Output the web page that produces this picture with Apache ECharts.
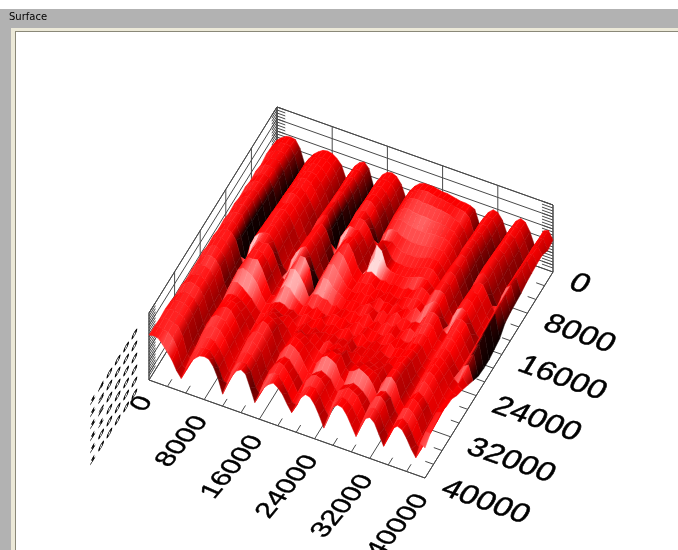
<!DOCTYPE html>
<html>
<head>
    <meta charset="utf-8" />
    <title>Surface</title>
    <style>
        html, body { margin: 0; padding: 0; background: #fff; }
        #main { width: 678px; height: 550px; }
    </style>
</head>
<body>
    <div id="main"></div>
    <script src="https://cdn.jsdelivr.net/npm/echarts@6/dist/echarts.min.js"></script>
    <script type="text/javascript">
        var xTicks = [0, 8000, 16000, 24000, 32000, 40000];
        var yTicks = [0, 8000, 16000, 24000, 32000, 40000];
        var zTicks = [7, 19, 31, 43, 55, 67];
        var zLabels = ["100000", "100000", "110000", "120000", "130000", "140000"];
        var zMax = 67;
        var axisMax = 40000;

        // surface heights: 25 rows back to front, 61 columns left to right
        var heights = [
            [34,38,41,42,41,34,20, 27,33,37,40,41,40,37,32, 20, 28,36,41,43,38, 22, 30,37,41,42,40,34, 22, 31,37,41,43,43,43,42,41,41,40,39,38,38,37,35, 22, 30,37,41,40,34, 22, 30,38,42,40,32, 20, 28,38,40,32],
            [36,40,43,44,43,35,19, 28,35,39,42,43,42,38,32, 19, 29,37,42,44,38, 21, 31,38,42,44,41,34, 21, 32,38,43,45,46,46,45,44,44,43,42,41,40,39,35, 21, 31,38,43,42,34, 21, 31,39,43,41,32, 20, 29,38,41,30],
            [37,41,44,45,44,36,19, 29,36,41,44,45,43,38,31, 18, 29,38,43,45,37, 20, 31,39,44,45,41,33, 20, 32,38,43,45,45,44,44,44,43,43,42,41,39,37,32, 20, 31,39,44,43,34, 20, 31,40,44,41,31, 19, 29,39,41,34],
            [35,41,45,46,45,36,18, 29,37,42,45,46,44,38,30, 18, 30,38,44,46,37, 19, 31,40,45,46,42,33, 19, 32,38,42,43,42,41,41,41,40,40,40,39,38,36,31, 20, 32,40,45,44,34, 20, 32,41,45,42,31, 19, 30,39,42,34],
            [37,43,47,47,46,37,18, 30,38,43,47,47,45,38,29, 17, 30,39,46,47,37, 18, 31,41,47,48,43,33, 18, 31,37,40,40,38,37,36,36,36,37,37,37,37,35,30, 20, 33,41,46,45,34, 20, 33,42,46,42,31, 18, 30,39,43,33],
            [36,42,46,48,46,36,17, 31,39,45,46,48,44,37,28, 17, 31,40,44,48,37, 17, 32,42,45,47,42,32, 18, 30,36,38,37,34,33,32,32,32,33,34,35,35,34,29, 20, 32,40,47,46,34, 19, 32,43,47,43,30, 18, 30,40,44,32],
            [38,44,48,49,47,37,17, 30,40,46,49,49,45,38,28, 17, 32,41,47,49,37, 17, 32,40,45,48,47,41,31, 19, 30,35,36,33,30,29,29,29,30,31,33,34,33,28, 20, 34,42,48,46,33, 19, 33,44,47,43,29, 18, 31,40,44,30],
            [37,43,47,50,48,37,17, 31,41,47,47,50,46,38,27, 18, 32,42,48,50,37, 18, 33,41,47,46,46,40,30, 20, 31,44,38,30,27,27,27,27,28,30,32,33,33,28, 21, 35,43,47,45,33, 20, 34,44,48,42,29, 19, 31,41,45,29],
            [39,45,49,51,49,38,17, 32,42,49,50,51,46,37,26, 18, 31,40,47,50,45,33, 18, 32,42,47,48,41,30, 21, 36,48,44,30,27,26,26,26,27,29,31,32,31,27, 22, 36,44,48,45,33, 21, 33,42,47,46,38,28, 20, 36,44,28],
            [38,45,50,52,50,38,18, 33,43,48,51,52,47,37,26, 19, 33,42,48,51,46,33, 20, 33,43,48,50,42,30, 24, 28,30,27,25,26,24,26,25, 24, 27,26,30,32,30, 25, 37,44,47,44,32, 22, 34,43,47,45,37,27, 21, 37,43,26],
            [40,46,51,52,51,39,18, 34,44,50,50,53,47,37,25, 20, 34,43,49,52,46,32, 21, 34,44,49,46,38,28, 24, 27,26,29,24,26,23,27,24, 23, 26,28,27,31,28, 25, 38,45,46,44,31, 23, 35,44,48,45,36,26, 21, 36,42,19],
            [39,46,50,53,50,39,18, 35,45,50,52,53,47,36,25, 21, 35,44,50,53,45,31, 22, 34,43,45,39,33,27, 25, 24,28,25,27,23,28,25,26, 24, 29,24,28,26,31, 27, 36,40,44,42,30, 24, 35,44,47,44,35,26, 22, 35,41,17],
            [41,47,51,53,51,45,30, 18, 35,45,52,52,53,47,36,24, 22, 36,45,52,52,43, 22, 33,38,38,32,29,27,24, 25, 27,24,26,29,25,23,27, 24, 26,30,25,28,24,27, 27, 35,41,43,40,29, 25, 36,44,46,43,34, 23, 34,40,15],
            [40,47,52,53,50,45,30, 17, 36,46,52,54,52,46,35,24, 23, 36,46,47,42,35, 24, 29,30,28,28,24,26,23, 26, 24,27,23,26,29,22,25, 23, 27,24,28,23,26,29, 26, 33,39,41,39,28, 26, 35,43,45,42,33, 24, 33,38,15],
            [42,48,52,53,50,44,29, 17, 37,47,53,53,54,46,35,24, 24, 33,38,37,31,27, 24, 27,24,28,25,22,25,27, 25, 27,23,25,28,23,26,24, 24, 22,25,28,24,27,24, 25, 31,37,39,37,27, 26, 34,42,44,41,32, 24, 32,36,16],
            [41,48,51,52,50,44,29, 18, 38,48,51,49,46,41,31,24, 25, 28,30,29,26,27, 23, 25,28,24,26,29,23,25, 27, 24,26,29,22,25,28,23, 22, 26,23,25,28,24,27, 26, 30,36,38,36,27, 25, 33,41,43,40,31, 24, 31,34,20],
            [42,48,50,50,48,42,28, 18, 36,44,45,42,38,34,28,23, 24, 29,33,30,28,31,27, 22, 26,29,25,28,24,27, 25, 28,24,27,25,29,23,26, 24, 27,24,28,25,23,27, 27, 31,38,40,37,27, 25, 32,40,43,40,34,26, 22, 30,24],
            [41,47,49,50,47,41,27, 17, 33,40,42,42,39,35,29,22, 22, 31,36,39,35,32,27, 20, 28,31,27,30,33,28, 26, 30,27,31,28,33,26,29, 25, 29,26,31,28,25,29, 26, 33,40,42,39,28, 24, 33,40,44,41,35,26, 22, 31,28],
            [43,47,50,49,47,40,26, 16, 33,40,43,46,44,38,30,21, 21, 33,39,44,42,37,26, 19, 30,36,39,37,33,30,26, 25, 32,30,35,33,37,28, 26, 31,29,34,32,30,33, 25, 35,42,45,41,29, 23, 32,40,45,42,35,25, 21, 32,31],
            [42,46,49,48,45,39,24, 15, 34,42,46,48,46,39,30,20, 19, 35,42,47,45,38,25, 17, 31,38,43,41,37,31,24, 23, 34,38,42,40,41,30, 25, 36,35,40,38,36,34, 24, 36,44,46,42,29, 22, 31,39,44,41,34,24, 20, 34,36],
            [44,47,48,47,45,38,23, 14, 35,43,47,46,44,38,29,19, 18, 36,43,45,43,37,24, 16, 32,39,44,42,38,30,22, 21, 36,42,45,43,40,29, 24, 38,40,44,42,39,33, 23, 37,45,47,42,28, 21, 30,38,42,39,33,23, 19, 36,37],
            [45,47,47,46,44,37,21, 14, 33,40,44,45,43,37,28,18, 16, 34,41,44,41,36,22, 15, 29,36,40,39,33,27,20, 20, 32,36,39,37,34,26, 22, 33,35,38,36,33,28, 21, 33,40,41,37,26, 20, 31,40,44,41,34,22, 18, 38,40],
            [44,47,46,45,43,35,19, 13, 30,38,42,43,41,35,27,16, 15, 31,39,42,40,35,21, 15, 32,39,43,41,35,28,19, 19, 35,41,43,41,35,24, 21, 36,39,42,40,37,29, 20, 36,43,45,40,26, 19, 32,41,43,40,33,21, 18, 37,38],
            [45,46,45,44,40,31,17, 13, 28,35,40,42,41,35,26,15, 14, 29,37,41,40,34,20, 15, 30,38,41,40,34,26,18, 17, 31,38,41,40,34,23, 17, 33,38,41,39,35,27, 19, 33,40,42,38,25, 18, 30,38,41,38,30,20, 17, 36,36],
            [45,46,45,40,34,28,19, 13, 25,33,38,42,43,42,36,26, 12, 25,33,40,43,40,28, 15, 26,33,38,41,38,33,25, 18, 28,36,41,40,34,25, 14, 28,38,42,41,35,26, 17, 30,38,41,37,27, 17, 30,38,42,40,33,24, 17, 33,30]
        ];

        // where the box sits on the page: back left floor corner and the edge vectors
        var floorOrigin = [277, 174];
        var xEdge = [276, 98];
        var yEdge = [-128, 206];
        var lineColor = "#4a4a4a";

        var myChart = echarts.init(document.getElementById("main"), null, { renderer: "canvas" });

        //x and y as fractions of the floor, z in height units
        function project(x, y, z) {
            return [
                floorOrigin[0] + x * xEdge[0] + y * yEdge[0],
                floorOrigin[1] + x * xEdge[1] + y * yEdge[1] - z
            ];
        }

        function fallRight(r, c) {
            return ((heights[r][c] - heights[r][c + 1]) + (heights[r + 1][c] - heights[r + 1][c + 1])) / 2;
        }

        //brightness of one cell: 1 is pure red, below goes to black, above goes to white
        function cellLight(r, c) {
            var g = fallRight(r, c);
            var d = ((heights[r][c] - heights[r + 1][c]) + (heights[r][c + 1] - heights[r + 1][c + 1])) / 2;
            var mean = (heights[r][c] + heights[r][c + 1] + heights[r + 1][c] + heights[r + 1][c + 1]) / 4;
            var v = 1 + (mean - 28) * 0.006;
            if (g > 0) {
                v -= (g / 17) * (g / 17);
            }
            v += d > 0 ? 0.1 * d : 0.03 * d;
            return v;
        }

        function lightColor(v) {
            if (v < 1) {
                return "rgb(" + Math.round(255 * Math.max(v, 0.04)) + ",0,0)";
            }
            var w = Math.round(255 * Math.min(0.85, (v - 1) * 0.7));
            return "rgb(255," + w + "," + w + ")";
        }

        // surface cells, far ones first so the near ones paint over them
        var cells = [];
        for (var r = 0; r < heights.length - 1; r++) {
            for (var c = 0; c < heights[r].length - 1; c++) {
                cells.push([c, r]);
            }
        }

        function renderCell(params, api) {
            var c = api.value(0), r = api.value(1);
            var nx = heights[0].length - 1, ny = heights.length - 1;
            var p1 = api.coord(project(c / nx, r / ny, heights[r][c]));
            var p2 = api.coord(project((c + 1) / nx, r / ny, heights[r][c + 1]));
            var p3 = api.coord(project((c + 1) / nx, (r + 1) / ny, heights[r + 1][c + 1]));
            var p4 = api.coord(project(c / nx, (r + 1) / ny, heights[r + 1][c]));

            // blend towards the neighbours, but keep the hard edge at the bottom of a valley
            var v = cellLight(r, c), vl = v, vr = v;
            if (c > 0 && !(fallRight(r, c - 1) > 2 && fallRight(r, c) <= 0)) {
                vl = (v + cellLight(r, c - 1)) / 2;
            }
            if (c < nx - 1 && !(fallRight(r, c) > 2 && fallRight(r, c + 1) <= 0)) {
                vr = (v + cellLight(r, c + 1)) / 2;
            }

            // gradient runs across the ridge, its bands parallel to the y edge
            var lx = (p1[0] + p4[0]) / 2, ly = (p1[1] + p4[1]) / 2;
            var rx = (p2[0] + p3[0]) / 2, ry = (p2[1] + p3[1]) / 2;
            var len = Math.sqrt(yEdge[0] * yEdge[0] + yEdge[1] * yEdge[1]);
            var nxd = yEdge[1] / len, nyd = -yEdge[0] / len;
            var dot = (rx - lx) * nxd + (ry - ly) * nyd;
            var fill = new echarts.graphic.LinearGradient(lx, ly, lx + nxd * dot, ly + nyd * dot, [
                { offset: 0, color: lightColor(vl) },
                { offset: 1, color: lightColor(vr) }
            ], true);
            return {
                type: "polygon",
                shape: { points: [p1, p2, p3, p4] },
                style: { fill: fill, stroke: fill, lineWidth: 0.5 }
            };
        }

        // wire box
        var segments = [];
        function addSeg(x1, y1, z1, x2, y2, z2) {
            segments.push([x1, y1, z1, x2, y2, z2]);
        }
        addSeg(0, 1, 0, 1, 1, 0);
        addSeg(1, 0, 0, 1, 1, 0);
        addSeg(0, 0, 0, 1, 0, 0);
        addSeg(0, 0, 0, 0, 1, 0);
        addSeg(0, 0, zMax, 1, 0, zMax);
        addSeg(0, 0, zMax, 0, 1, zMax);
        addSeg(0, 1, 0, 0, 1, zMax);
        addSeg(0, 0, 0, 0, 0, zMax);
        addSeg(1, 0, 0, 1, 0, zMax);
        xTicks.forEach(function (v) {
            var t = v / axisMax;
            addSeg(t, 0, 0, t, 1, 0);
            addSeg(t, 0, 0, t, 0, zMax);
        });
        yTicks.forEach(function (v) {
            var s = v / axisMax;
            addSeg(0, s, 0, 1, s, 0);
            addSeg(0, s, 0, 0, s, zMax);
        });
        zTicks.forEach(function (z) {
            addSeg(0, 0, z, 1, 0, z);
            addSeg(0, 0, z, 0, 1, z);
        });
        for (var m = 0; m < axisMax; m += 8000) {
            [1, 2].forEach(function (k) {
                var f = (m + k * 8000 / 3) / axisMax;
                addSeg(f, 1, 0, f, 0.965, 0);
                addSeg(1, f, 0, 0.97, f, 0);
            });
        }
        for (var h = 4; h <= zMax; h += 3) {
            addSeg(0, 1, h, 0, 0.95, h);
            addSeg(0, 0, h, 0, 0.04, h);
            addSeg(0, 0, h, 0.03, 0, h);
            addSeg(1, 0, h, 0.96, 0, h);
        }

        function renderSeg(params, api) {
            var p1 = api.coord(project(api.value(0), api.value(1), api.value(2)));
            var p2 = api.coord(project(api.value(3), api.value(4), api.value(5)));
            return {
                type: "line",
                shape: { x1: p1[0], y1: p1[1], x2: p2[0], y2: p2[1] },
                style: { stroke: lineColor, lineWidth: 1 }
            };
        }

        // text laid into the plane of the box: split the 2x2 matrix into rotate, scale, rotate
        function skewedText(pos, text, size, align, ux, uy, dx, dy, weight) {
            var E = (ux + dy) / 2, F = (ux - dy) / 2, G = (uy + dx) / 2, H = (uy - dx) / 2;
            var Q = Math.sqrt(E * E + H * H), R = Math.sqrt(F * F + G * G);
            var a1 = Math.atan2(G, F), a2 = Math.atan2(H, E);
            return {
                type: "group",
                x: pos[0],
                y: pos[1],
                rotation: -(a2 + a1) / 2,
                scaleX: Q + R,
                scaleY: Q - R,
                children: [{
                    type: "text",
                    rotation: -(a2 - a1) / 2,
                    style: {
                        text: text,
                        fill: "#000",
                        stroke: "#000",
                        lineWidth: weight,
                        font: size + "px 'Liberation Sans', Arial, sans-serif",
                        align: align,
                        verticalAlign: "middle"
                    }
                }]
            };
        }

        var labelItems = [];
        xTicks.forEach(function (v) { labelItems.push(["x", v]); });
        yTicks.forEach(function (v) { labelItems.push(["y", v]); });
        zTicks.forEach(function (v, i) { labelItems.push(["z", v, zLabels[i]]); });

        function renderLabel(params) {
            var item = labelItems[params.dataIndex];
            var kind = item[0], v = item[1], p;
            if (kind === "x") {
                p = project(v / axisMax, 1, 0);
                return skewedText([p[0] - 2, p[1] + 18], String(v), 25, "right", 0.72, -0.86, 0.95, 0.42, 0.4);
            }
            if (kind === "y") {
                p = project(1, v / axisMax, 0);
                return skewedText([p[0] + 18, p[1] + 9], String(v), 24, "left", 1.27, 0.45, -0.62, 1, 0.4);
            }
            p = project(0, 1, v);
            // the z labels are squeezed nearly flat in the picture, digits stand apart
            return skewedText([p[0] - 12, p[1] + 17], item[2].split("").join(" "), 8, "right", 1.24, -1.95, -0.15, 0.9, 0.7);
        }

        var option = {
            animation: false,
            backgroundColor: "#fff",
            grid: { left: 0, right: 0, top: 0, bottom: 0 },
            xAxis: { type: "value", min: 0, max: 678, show: false },
            yAxis: { type: "value", min: 0, max: 550, inverse: true, show: false },
            tooltip: { show: false },
            graphic: [
                { type: "rect", silent: true, shape: { x: 0, y: 9, width: 678, height: 19 }, style: { fill: "#b2b2b2" } },
                { type: "rect", silent: true, shape: { x: 0, y: 28, width: 11, height: 522 }, style: { fill: "#b2b2b2" } },
                { type: "rect", silent: true, shape: { x: 11, y: 28, width: 667, height: 3 }, style: { fill: "#ece9d8" } },
                { type: "rect", silent: true, shape: { x: 11, y: 28, width: 4, height: 522 }, style: { fill: "#ece9d8" } },
                { type: "rect", silent: true, shape: { x: 15, y: 31, width: 663, height: 1 }, style: { fill: "#8a8878" } },
                { type: "rect", silent: true, shape: { x: 15, y: 31, width: 1, height: 519 }, style: { fill: "#8a8878" } },
                { type: "text", silent: true, x: 9, y: 12, style: { text: "Surface", fill: "#000", font: "10px 'DejaVu Sans', Tahoma, sans-serif" } }
            ],
            series: [
                { type: "custom", coordinateSystem: "cartesian2d", silent: true, clip: false, z: 1, progressive: 0, data: segments, renderItem: renderSeg },
                { type: "custom", coordinateSystem: "cartesian2d", silent: true, clip: false, z: 2, progressive: 0, data: cells, renderItem: renderCell },
                { type: "custom", coordinateSystem: "cartesian2d", silent: true, clip: false, z: 3, data: labelItems.map(function (d, i) { return [i, 0]; }), renderItem: renderLabel }
            ]
        };
        myChart.setOption(option);
    </script>
</body>
</html>
